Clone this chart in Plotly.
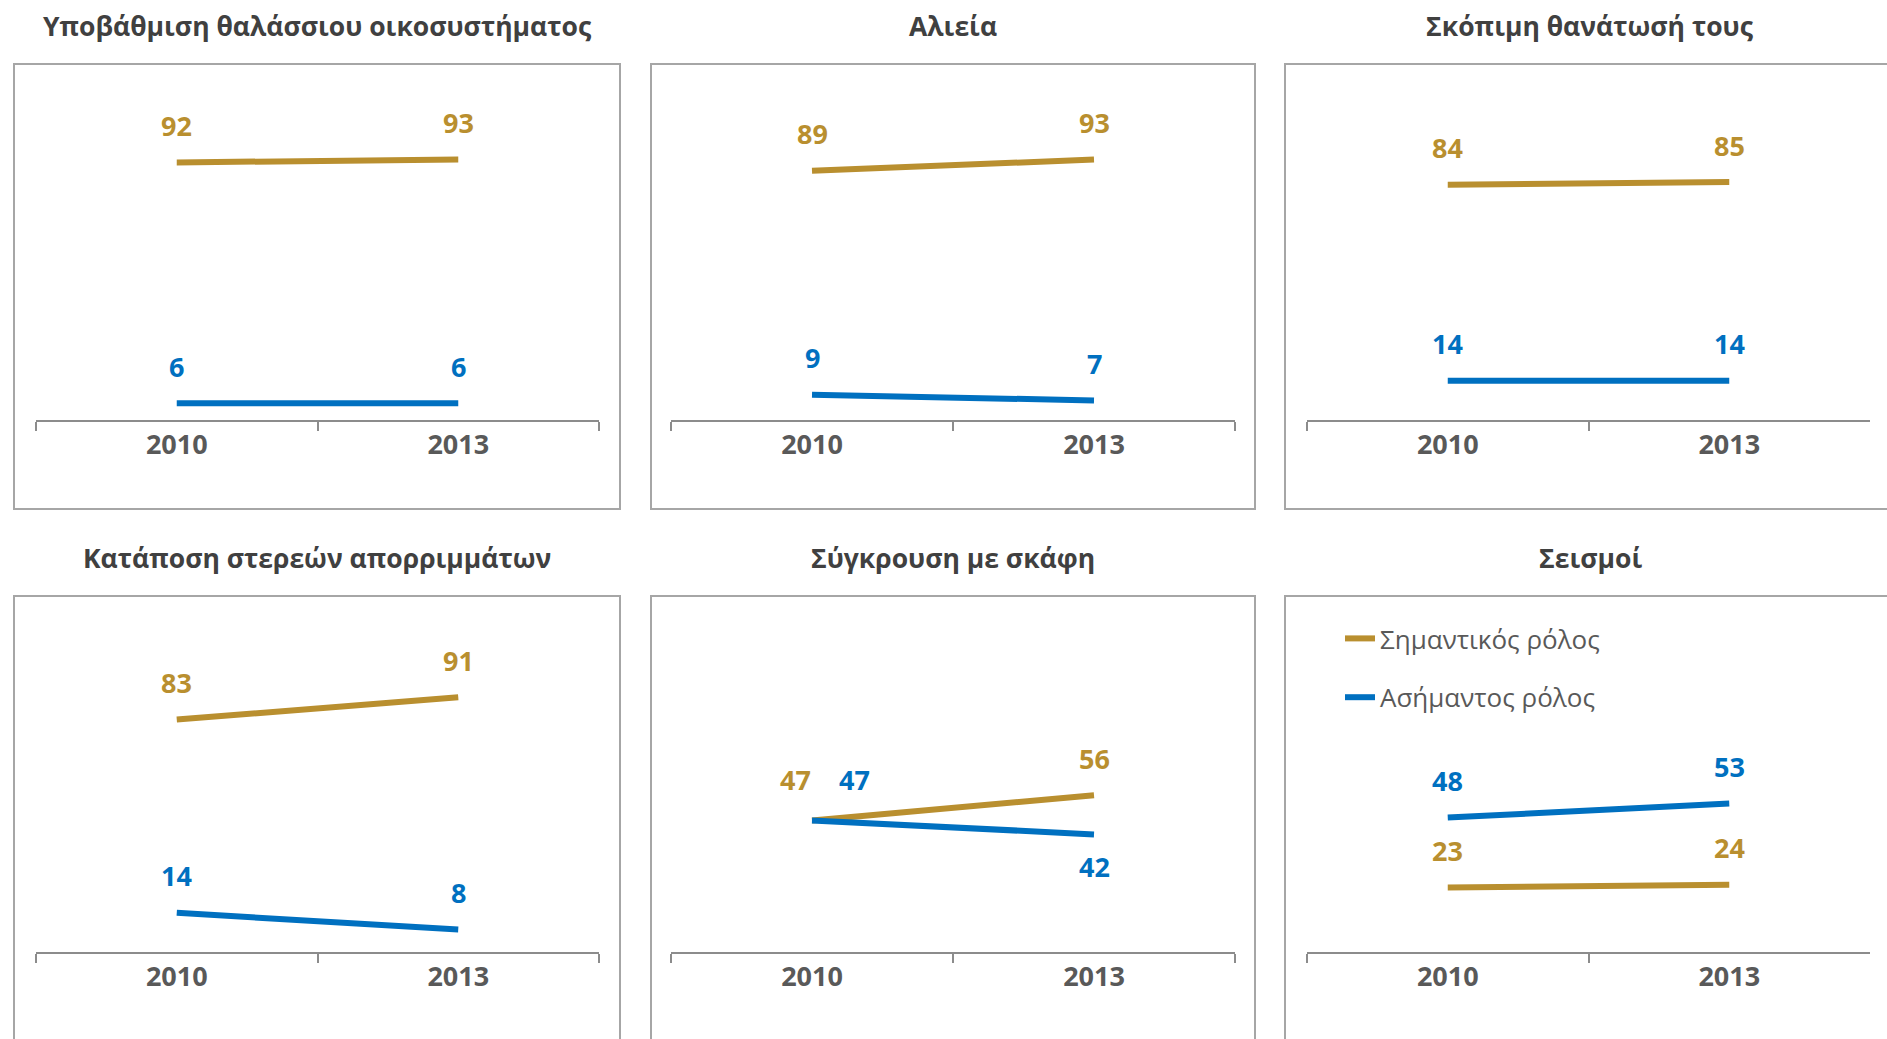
import plotly.graph_objects as go

years = ["2010", "2013"]
titles = [
    "Υποβάθμιση θαλάσσιου οικοσυστήματος",
    "Αλιεία",
    "Σκόπιμη θανάτωσή τους",
    "Κατάποση στερεών απορριμμάτων",
    "Σύγκρουση με σκάφη",
    "Σεισμοί",
]
important = [[92, 93], [89, 93], [84, 85], [83, 91], [47, 56], [23, 24]]
unimportant = [[6, 6], [9, 7], [14, 14], [14, 8], [47, 42], [48, 53]]
series_names = ["Σημαντικός ρόλος", "Ασήμαντος ρόλος"]

GOLD = "#B98F2F"
BLUE = "#0070C0"
W, H = 1887, 1039

# pixel geometry of the panels
col_axis = [(36, 599), (671, 1235), (1307, 1870)]
col_box = [(14, 620), (651, 1255), (1285, 1895)]
row_axis = [420, 952]      # y of the axis line (value 0)
row_box = [(64, 509), (596, 1045)]
row_title = [26, 558]


def px_x(p):
    return p / W


def px_y(p):
    return 1 - p / H


# label offsets (xshift, yshift) in px, default is centred above the point
label_shift = {
    (4, 0, 0): (-17, 41),
    (4, 1, 0): (42, 41),
    (4, 1, 1): (0, -32),
}

fig = go.Figure()
shapes, annotations = [], []

for i in range(6):
    r, c = divmod(i, 3)
    n = i + 1
    sfx = str(n) if n > 1 else ""
    xa, ya = "x" + sfx, "y" + sfx
    for s, (vals, color) in enumerate([(important[i], GOLD), (unimportant[i], BLUE)]):
        fig.add_trace(go.Scatter(
            x=years, y=vals, mode="lines", name=series_names[s],
            line=dict(color=color, width=6), xaxis=xa, yaxis=ya,
            showlegend=(i == 5), legendgroup=f"g{s}", hoverinfo="skip",
        ))
        for k, v in enumerate(vals):
            dx, dy = label_shift.get((i, s, k), (0, 37))
            annotations.append(dict(
                x=k, y=v, xref=xa, yref=ya, text=f"<b>{v}</b>", showarrow=False,
                xshift=dx, yshift=dy, yanchor="middle", xanchor="center",
                font=dict(family="Open Sans", size=27, color=color),
            ))

    fig.layout["xaxis" + sfx] = dict(
        domain=[px_x(col_axis[c][0]), px_x(col_axis[c][1])], anchor=ya,
        type="category", categoryorder="array", categoryarray=years, range=[-0.5, 1.5],
        tickson="boundaries", ticks="outside", ticklen=9, tickwidth=1.5, tickcolor="#8C8C8C",
        showline=True, linecolor="#8C8C8C", linewidth=1.5, showgrid=False, zeroline=False,
        tickfont=dict(family="Open Sans", size=27, color="#595959", weight="bold"),
    )
    fig.layout["yaxis" + sfx] = dict(
        domain=[px_y(row_axis[r]), px_y(row_box[r][0])], anchor=xa,
        range=[0, (row_axis[r] - row_box[r][0]) / 2.8], visible=False,
    )
    shapes.append(dict(
        type="rect", xref="paper", yref="paper",
        x0=px_x(col_box[c][0]), x1=px_x(col_box[c][1]),
        y0=px_y(row_box[r][1]), y1=px_y(row_box[r][0]),
        line=dict(color="#A6A6A6", width=2), layer="below",
    ))
    annotations.append(dict(
        x=px_x((col_box[c][0] + col_box[c][1]) / 2), y=px_y(row_title[r]),
        xref="paper", yref="paper", text=f"<b>{titles[i]}</b>", showarrow=False,
        xanchor="center", yanchor="middle",
        font=dict(family="Open Sans", size=26.5, color="#404040"),
    ))

fig.update_layout(
    width=W, height=H, margin=dict(l=0, r=0, t=0, b=0),
    plot_bgcolor="white", paper_bgcolor="white",
    shapes=shapes, annotations=annotations,
    legend=dict(
        x=px_x(1340), y=px_y(615), xanchor="left", yanchor="top",
        font=dict(family="Open Sans", size=26, color="#595959"),
        traceorder="grouped", tracegroupgap=22, bgcolor="rgba(0,0,0,0)",
    ),
)

fig.write_html(
    "out.html",
    config={"displayModeBar": False},
    post_script="document.body.style.margin='0';document.body.style.overflow='hidden';",
)
